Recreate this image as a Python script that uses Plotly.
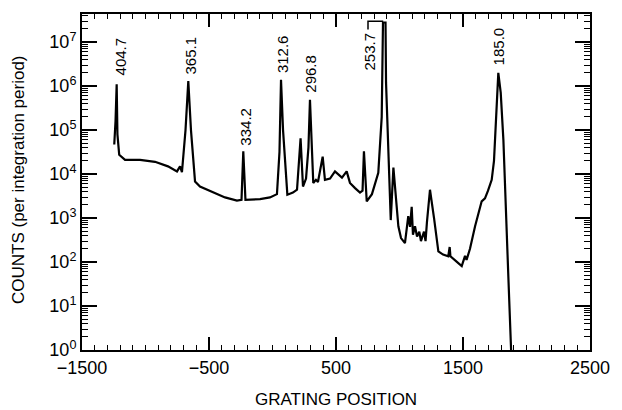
import math
import plotly.graph_objects as go

# Spectrum trace (grating position, counts per integration period)
grating_pos = [-1246, -1236, -1227, -1221, -1207, -1161, -1043, -925, -823, -752, -728, -713,
               -685, -663, -642, -610, -571, -468, -374, -280, -244, -230, -213, -98, -20,
               35, 55, 67, 83, 117, 161, 193, 221, 240, 264, 283, 295, 321, 342, 358, 395,
               413, 453, 492, 516, 547, 584, 610, 650, 689, 709, 720, 742, 783, 833, 860,
               870, 890, 894, 920, 931, 952, 973, 991, 1012, 1043, 1069, 1083, 1096, 1106,
               1122, 1138, 1156, 1169, 1193, 1205, 1216, 1240, 1272, 1306, 1343, 1384, 1395,
               1401, 1445, 1490, 1516, 1528, 1555, 1595, 1647, 1673, 1697, 1726, 1744, 1760,
               1778, 1797, 1818, 1857, 1880]
counts = [4.7e4, 1.6e5, 1.1e6, 8.0e4, 2.75e4, 2.1e4, 2.1e4, 1.9e4, 1.5e4, 1.15e4, 1.5e4, 1.1e4,
          1.0e5, 1.3e6, 1.0e5, 6.8e3, 5.2e3, 3.8e3, 2.95e3, 2.5e3, 2.6e3, 3.3e4, 2.6e3, 2.7e3, 2.95e3,
          3.5e3, 3.2e4, 1.4e6, 1.0e5, 3.4e3, 3.8e3, 4.4e3, 6.5e4, 5.2e3, 7.9e3, 4.0e4, 4.9e5, 6.3e3,
          7.4e3, 6.6e3, 2.5e4,
          7.4e3, 7.9e3, 1.15e4, 9.8e3, 8.3e3, 1.15e4, 6.3e3, 4.8e3, 3.8e3, 4.2e3, 3.3e4, 2.4e3,
          3.5e3, 1.07e4, 2.0e5,
          2.8e7, 2.8e7, 1.2e6, 1.05e4, 9.0e2, 1.4e4, 2.0e3, 6.5e2, 3.5e2, 2.7e2, 1.1e3, 6.3e2, 1.8e3,
          4.2e2, 6.5e2, 3.8e2, 4.9e2, 3.0e2, 4.9e2, 3.0e2, 8.0e2, 4.4e3, 1.0e3, 1.74e2, 1.48e2,
          1.35e2, 2.2e2, 1.35e2, 1.05e2, 8.1e1, 1.38e2, 1.12e2, 2.0e2, 6.5e2, 2.4e3, 2.8e3, 4.2e3,
          7.4e3, 2.0e4, 1.74e5, 2.0e6, 7.1e5, 6.0e4, 4.7e1, 0.8]

# Peak wavelength labels (nm)
label_text = ["404.7", "365.1", "334.2", "312.6", "296.8", "253.7", "185.0"]
label_x = [-1201, -642, -209, 79, 299, 760, 1783]
label_y = [1.66e6, 1.74e6, 4.2e4, 1.83e6, 6.9e5, 2.15e6, 2.8e6]

# Leader bracket for the saturated 253.7 line
bracket_x = [752, 752, 872]
bracket_y = [1.95e7, 3.0e7, 3.0e7]

x_ticks = [-1500, -500, 500, 1500, 2500]
y_exponents = [0, 1, 2, 3, 4, 5, 6, 7]

font_family = "Liberation Sans, Arial, Helvetica, sans-serif"

fig = go.Figure()
fig.add_trace(go.Scatter(x=grating_pos, y=counts, mode="lines",
                         line=dict(color="black", width=2.2), showlegend=False))
fig.add_trace(go.Scatter(x=bracket_x, y=bracket_y, mode="lines",
                         line=dict(color="black", width=1.5), showlegend=False))

for t, x, y in zip(label_text, label_x, label_y):
    fig.add_annotation(x=x, y=math.log10(y), yref="y", xref="x", text=t, textangle=-90,
                       showarrow=False, xanchor="center", yanchor="bottom",
                       font=dict(size=15, color="black", family=font_family),
                       borderpad=0)

fig.add_annotation(x=0.5, y=-0.148, xref="paper", yref="paper", text="GRATING POSITION",
                   showarrow=False, xanchor="center", yanchor="middle",
                   font=dict(size=17, color="black", family=font_family))
fig.add_annotation(x=-0.124, y=0.506, xref="paper", yref="paper",
                   text="COUNTS (per integration period)", textangle=-90,
                   showarrow=False, xanchor="center", yanchor="middle",
                   font=dict(size=17, color="black", family=font_family))

fig.update_layout(
    width=622, height=410,
    margin=dict(l=82, r=32, t=14, b=60),
    paper_bgcolor="white", plot_bgcolor="white",
    font=dict(family=font_family, color="black", size=18),
)
fig.update_xaxes(
    range=[-1500, 2500], tickvals=x_ticks, ticktext=[f"{v:d}".replace("-", "\u2212") for v in x_ticks],
    ticks="inside", ticklen=13, tickwidth=1.5, tickcolor="black",
    showline=True, linecolor="black", linewidth=2, mirror="allticks",
    showgrid=False, zeroline=False,
    minor=dict(ticks="inside", dtick=100, tick0=-1500, ticklen=5, tickwidth=1.2, tickcolor="black", showgrid=False),
    tickfont=dict(size=18, family=font_family),
)
minor_y = [k * 10 ** e for e in y_exponents for k in range(2, 10)]
fig.update_yaxes(
    type="log", range=[0, 7.64],
    tickvals=[10 ** e for e in y_exponents],
    ticktext=[f"10<sup>{e}</sup>" for e in y_exponents],
    ticks="inside", ticklen=15, tickwidth=1.5, tickcolor="black",
    showline=True, linecolor="black", linewidth=2, mirror="allticks",
    showgrid=False, zeroline=False,
    minor=dict(ticks="inside", tickmode="array", tickvals=minor_y, ticklen=6, tickwidth=1,
               tickcolor="black", showgrid=False),
    tickfont=dict(size=18, family=font_family),
)

fig.write_html("out.html")
